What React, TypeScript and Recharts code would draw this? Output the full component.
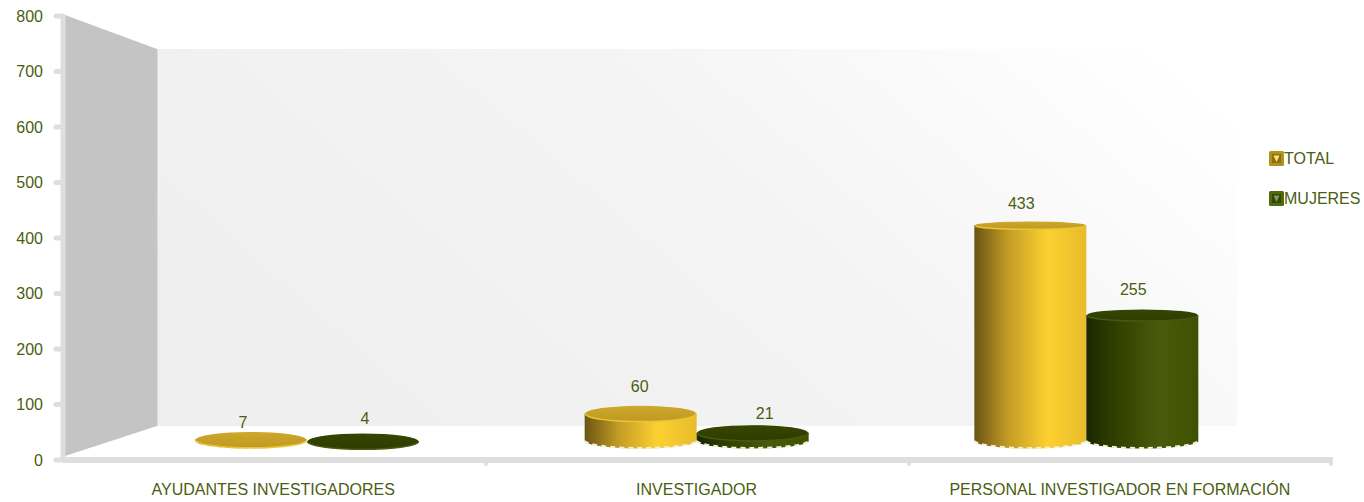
import { BarChart, Bar, XAxis, YAxis, Legend, LabelList } from 'recharts';

const categories = ['AYUDANTES INVESTIGADORES', 'INVESTIGADOR', 'PERSONAL INVESTIGADOR EN FORMACIÓN'];
const totalValues = [7, 60, 433];
const mujeresValues = [4, 21, 255];
const yTicks = [0, 100, 200, 300, 400, 500, 600, 700, 800];

const rows = categories.map((categoria, i) => ({
  categoria,
  total: totalValues[i],
  mujeres: mujeresValues[i],
}));

// the 3D bars sit on a shorter perspective scale than the printed axis
const barDomain = [-50.6, 848.2];

// labels in the original are not centred on the bars
const totalLabelNudge = [[-8, -9], [-1, -19], [-9, -18]];
const mujeresLabelNudge = [[2, -15], [12, -11], [-9, -20]];

const textColor = '#4a5e10';
const axisColor = '#dedede';
const fontFamily = '"Liberation Sans", Arial, sans-serif';

function cylinder(fillId: string, capId: string, rimColor: string) {
  return (props: any) => {
    const { x, y, width, height } = props;
    const rx = width / 2;
    const capRy = Math.min(8, 4 + (y - 221) * 0.0216);
    const capCy = y + capRy;
    const baseCy = y + height + 6;
    const bodyTop = Math.min(capCy, baseCy);
    return (
      <g>
        <path
          d={`M${x},${bodyTop} L${x},${baseCy} A${rx},7.5 0 0 0 ${x + width},${baseCy} L${x + width},${bodyTop} Z`}
          fill={`url(#${fillId})`}
        />
        <path
          d={`M${x},${baseCy - 0.5} A${rx},7.5 0 0 0 ${x + width},${baseCy - 0.5}`}
          fill="none"
          stroke="#f4f0d8"
          strokeWidth={2}
          strokeDasharray="5 4"
        />
        <ellipse cx={x + rx} cy={capCy + 1} rx={rx} ry={capRy} fill={rimColor} />
        <ellipse cx={x + rx} cy={capCy} rx={rx - 1} ry={capRy - 0.5} fill={`url(#${capId})`} />
      </g>
    );
  };
}

function valueLabel(nudge: number[][]) {
  return (props: any) => {
    const { x, y, width, value, index } = props;
    const [dx, dy] = nudge[index];
    return (
      <text
        x={x + width / 2 + dx}
        y={y + dy}
        textAnchor="middle"
        dominantBaseline="central"
        fill={textColor}
        fontSize={16}
        fontFamily={fontFamily}
      >
        {value}
      </text>
    );
  };
}

function LegendMark({ outer, inner, arrow }: { outer: string; inner: string; arrow: string }) {
  return (
    <svg width={15} height={15} style={{ display: 'block' }}>
      <rect x={0} y={0} width={15} height={15} rx={1.5} fill={outer} />
      <rect x={3} y={3} width={9} height={9} fill={inner} />
      <polygon points="4.5,4.5 10.5,4.5 7.5,11" fill={arrow} />
    </svg>
  );
}

const legendMarks: Record<string, { outer: string; inner: string; arrow: string }> = {
  TOTAL: { outer: '#b0921e', inner: '#8a7014', arrow: '#ffe36a' },
  MUJERES: { outer: '#4f6a08', inner: '#36450a', arrow: '#8a9860' },
};

function renderLegend(props: any) {
  return (
    <div>
      {(props.payload || []).map((entry: any) => (
        <div
          key={entry.value}
          style={{ display: 'flex', alignItems: 'center', height: 15, marginBottom: 25, color: textColor, fontSize: 16, fontFamily }}
        >
          <LegendMark {...legendMarks[entry.value]} />
          <span>{entry.value}</span>
        </div>
      ))}
    </div>
  );
}

export default function App() {
  return (
    <div style={{ position: 'absolute', left: 0, top: 0, width: 1364, height: 502, background: '#fff' }}>
      <BarChart
        width={1364}
        height={502}
        data={rows}
        margin={{ top: 16, right: 31, left: 0, bottom: 0 }}
        barSize={112}
        barGap={0}
      >
        <defs>
          <linearGradient id="wallGradient" x1="0" y1="0.6" x2="1" y2="0.2">
            <stop offset="0%" stopColor="#efefef" />
            <stop offset="55%" stopColor="#f4f4f4" />
            <stop offset="100%" stopColor="#ffffff" />
          </linearGradient>
          <linearGradient id="totalBody" x1="0" y1="0" x2="1" y2="0">
            <stop offset="0%" stopColor="#6b5415" />
            <stop offset="30%" stopColor="#c29c25" />
            <stop offset="65%" stopColor="#fdd031" />
            <stop offset="100%" stopColor="#e8bc2a" />
          </linearGradient>
          <linearGradient id="mujeresBody" x1="0" y1="0" x2="1" y2="0">
            <stop offset="0%" stopColor="#1a2700" />
            <stop offset="30%" stopColor="#334300" />
            <stop offset="65%" stopColor="#4a5a0c" />
            <stop offset="100%" stopColor="#3f5000" />
          </linearGradient>
          <linearGradient id="totalCap" x1="0" y1="0" x2="0" y2="1">
            <stop offset="0%" stopColor="#cda82c" />
            <stop offset="100%" stopColor="#c09a22" />
          </linearGradient>
          <linearGradient id="mujeresCap" x1="0" y1="0" x2="0" y2="1">
            <stop offset="0%" stopColor="#364500" />
            <stop offset="100%" stopColor="#2f3e00" />
          </linearGradient>
        </defs>

        {/* back wall and side wall of the 3D frame */}
        <rect x={158} y={49} width={1079} height={377} fill="url(#wallGradient)" />
        <polygon points="65,15 157,49 157,426 65,456" fill="#c4c4c4" />
        <line x1={157.5} y1={49} x2={157.5} y2={426} stroke="#dcdcdc" />

        <XAxis
          dataKey="categoria"
          interval={0}
          height={42}
          axisLine={{ stroke: axisColor, strokeWidth: 6 }}
          tickLine={false}
          tickMargin={18}
          tick={{ fill: textColor, fontSize: 16, fontFamily, dx: -1.5 }}
        />
        <XAxis xAxisId="bars" dataKey="categoria" hide padding={{ left: 49, right: 52 }} />
        <YAxis
          domain={[0, 800]}
          ticks={yTicks}
          width={63}
          allowDataOverflow
          axisLine={{ stroke: axisColor, strokeWidth: 5 }}
          tickSize={7}
          tickMargin={13}
          tickLine={{ stroke: axisColor, strokeWidth: 5, strokeLinecap: 'round' }}
          tick={{ fill: textColor, fontSize: 16, fontFamily }}
        />
        <YAxis yAxisId="bars" hide domain={barDomain} allowDataOverflow />

        {/* small nubs on the base line between categories */}
        {[486, 909, 1331].map((x) => (
          <line key={x} x1={x} y1={460} x2={x} y2={464} stroke={axisColor} strokeWidth={4} strokeLinecap="round" />
        ))}

        <Bar
          dataKey="total"
          name="TOTAL"
          xAxisId="bars"
          yAxisId="bars"
          fill="#c9a228"
          shape={cylinder('totalBody', 'totalCap', '#eac534')}
          isAnimationActive={false}
        >
          <LabelList dataKey="total" content={valueLabel(totalLabelNudge)} />
        </Bar>
        <Bar
          dataKey="mujeres"
          name="MUJERES"
          xAxisId="bars"
          yAxisId="bars"
          fill="#334300"
          shape={cylinder('mujeresBody', 'mujeresCap', '#4a5a0c')}
          isAnimationActive={false}
        >
          <LabelList dataKey="mujeres" content={valueLabel(mujeresLabelNudge)} />
        </Bar>

        <Legend
          layout="horizontal"
          verticalAlign="middle"
          align="center"
          itemSorter={null}
          content={renderLegend}
          wrapperStyle={{ position: 'absolute', left: 1269, top: 151, width: 95, bottom: 'auto', right: 'auto' }}
        />
      </BarChart>
    </div>
  );
}
